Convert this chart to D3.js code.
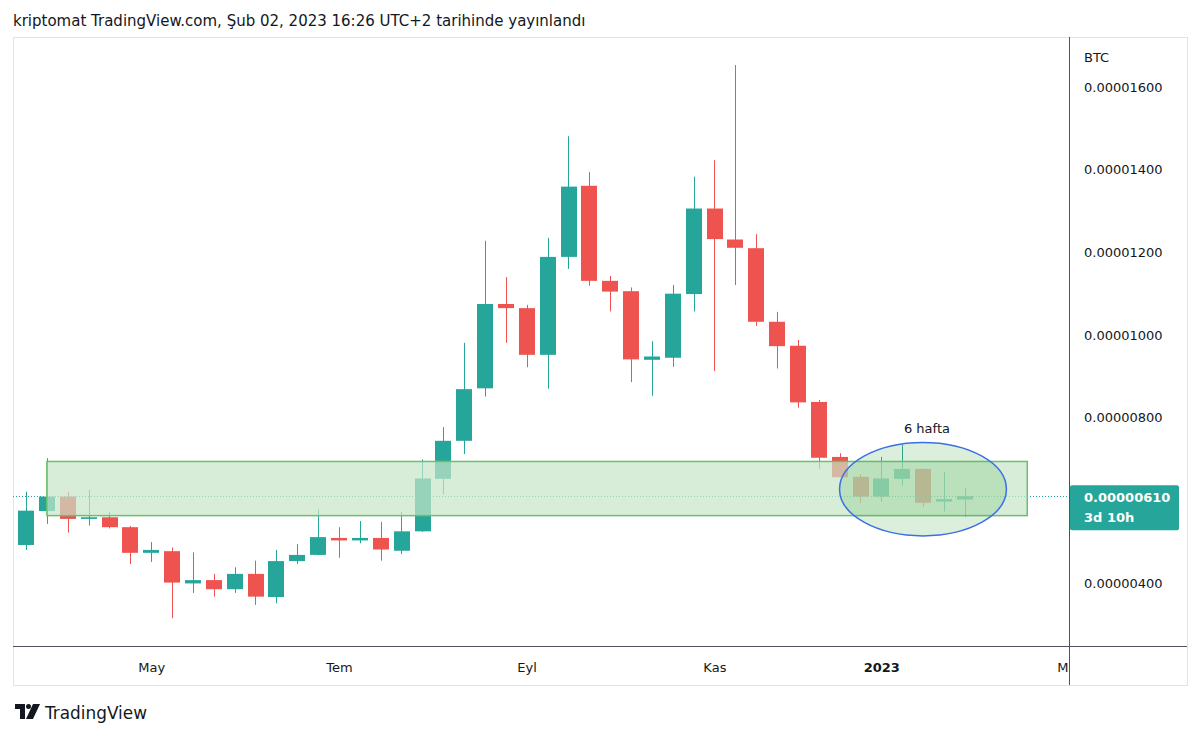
<!DOCTYPE html>
<html><head><meta charset="utf-8">
<script src="https://cdn.jsdelivr.net/npm/d3@7"></script>
<style>
html,body{margin:0;padding:0;background:#fff;}
svg{display:block;}
text{font-family:"DejaVu Sans",sans-serif;}
</style></head>
<body>
<svg id="chart" width="1200" height="736"></svg>
<script>
// Weekly candles, prices in satoshi (1e-8 BTC)
const weeks = ["2022-03-21","2022-03-28","2022-04-04","2022-04-11","2022-04-18","2022-04-25",
"2022-05-02","2022-05-09","2022-05-16","2022-05-23","2022-05-30","2022-06-06","2022-06-13",
"2022-06-20","2022-06-27","2022-07-04","2022-07-11","2022-07-18","2022-07-25","2022-08-01",
"2022-08-08","2022-08-15","2022-08-22","2022-08-29","2022-09-05","2022-09-12","2022-09-19",
"2022-09-26","2022-10-03","2022-10-10","2022-10-17","2022-10-24","2022-10-31","2022-11-07",
"2022-11-14","2022-11-21","2022-11-28","2022-12-05","2022-12-12","2022-12-19","2022-12-26",
"2023-01-02","2023-01-09","2023-01-16","2023-01-23","2023-01-30"];
const opens  = [492,574,609,555,559,535,473,477,399,407,385,422,366,453,468,509,503,509,478,525,652,744,871,1075,1065,952,1189,1361,1131,1106,940,945,1099,1306,1231,1210,1032,974,838,705,657,609,652,676,597,602];
const highs  = [621,702,621,625,572,538,499,486,474,422,438,454,480,494,578,535,550,548,572,699,777,981,1228,1140,1073,1235,1481,1394,1143,1115,985,1121,1383,1423,1653,1244,1056,988,843,714,663,705,735,677,669,631];
const lows   = [480,543,522,539,532,446,451,315,376,367,376,347,351,446,467,461,496,454,470,524,615,712,851,981,922,870,1160,1119,1057,886,853,923,1057,913,1121,1022,919,824,676,655,594,597,635,585,573,560];
const closes = [575,609,555,559,535,473,480,401,407,385,422,367,453,468,511,503,509,481,525,653,744,869,1075,1065,952,1189,1359,1131,1105,941,948,1100,1306,1232,1211,1032,973,837,703,656,609,653,676,594,603,610];

// 0.00000600 is hidden behind the last-price label in the reference
const yTicks = [400,800,1000,1200,1400,1600];
const xTickDates = ["2022-05-02","2022-07-04","2022-09-05","2022-11-07","2023-01-02","2023-03-06"];
const xTickLabels = ["May","Tem","Eyl","Kas","2023","Mar"];
const xTickBold = [false,false,false,false,true,false];

const lastPrice = 610;
const countdown = "3d 10h";
const currency = "BTC";
const headerText = "kriptomat TradingView.com, Şub 02, 2023 16:26 UTC+2 tarihinde yayınlandı";

// drawings
const zoneDates = ["2022-03-28","2023-02-20"];
const zonePrices = [694, 563];
const ellipseDates = ["2022-12-19","2023-02-13"];
const ellipsePrices = [740, 514];
const ellipseLabel = "6 hafta";

const parse = d3.utcParse("%Y-%m-%d");
const fmt = v => (v/1e8).toFixed(8);

const L = 13, R = 1069, T = 37, B = 646, FR = 1187, FB = 685;
const svg = d3.select("#chart");

const x = d3.scaleUtc().domain([parse("2022-03-21"), parse("2023-03-06")]).range([26, 1069]);
const y = d3.scaleLinear().domain([400,1600]).range([583,87]);
const step = x(parse("2022-03-28")) - x(parse("2022-03-21"));
const bw = step*0.75;

const UP = "#26a69a", DN = "#ef5350";

// header
svg.append("text").attr("x",13).attr("y",26).attr("font-size",15).attr("fill","#131722").text(headerText);

// frame
svg.append("rect").attr("x",L+0.5).attr("y",T+0.5).attr("width",FR-L).attr("height",FB-T)
  .attr("fill","none").attr("stroke","#e0e3eb");

svg.append("defs").append("clipPath").attr("id","plot").append("rect")
  .attr("x",L).attr("y",T).attr("width",R-L).attr("height",B-T);
svg.select("defs").append("clipPath").attr("id","xax").append("rect")
  .attr("x",L).attr("y",B).attr("width",R-L+1).attr("height",FB-B);

const plot = svg.append("g").attr("clip-path","url(#plot)");

const data = weeks.map((w,i)=>({d:parse(w),o:opens[i],h:highs[i],l:lows[i],c:closes[i]}));

const cg = plot.append("g");
cg.selectAll("line.wick").data(data).join("line").attr("class","wick")
  .attr("x1",d=>Math.round(x(d.d))+0.5).attr("x2",d=>Math.round(x(d.d))+0.5)
  .attr("y1",d=>y(d.h)).attr("y2",d=>y(d.l))
  .attr("stroke",d=>d.c>=d.o?UP:DN).attr("stroke-width",1);
cg.selectAll("rect.body").data(data).join("rect").attr("class","body")
  .attr("x",d=>Math.round(x(d.d)-bw/2)).attr("width",Math.round(bw))
  .attr("y",d=>y(Math.max(d.o,d.c)))
  .attr("height",d=>Math.max(1.5,Math.abs(y(d.o)-y(d.c))))
  .attr("fill",d=>d.c>=d.o?UP:DN);

// last price line
plot.append("line").attr("x1",L).attr("x2",R).attr("y1",Math.round(y(lastPrice))+0.5).attr("y2",Math.round(y(lastPrice))+0.5)
  .attr("stroke",UP).attr("stroke-width",1).attr("stroke-dasharray","1,2");

// zone rectangle
const zx0 = x(parse(zoneDates[0])), zx1 = x(parse(zoneDates[1]));
const zy0 = y(zonePrices[0]), zy1 = y(zonePrices[1]);
plot.append("rect").attr("x",zx0).attr("y",zy0).attr("width",zx1-zx0).attr("height",zy1-zy0)
  .attr("fill","rgb(200,230,200)").attr("fill-opacity",0.7)
  .attr("stroke","#6cbf70").attr("stroke-width",1.5);

// ellipse
const ex0 = x(parse(ellipseDates[0])), ex1 = x(parse(ellipseDates[1]));
const ey0 = y(ellipsePrices[0]), ey1 = y(ellipsePrices[1]);
const ecx = (ex0+ex1)/2, ecy=(ey0+ey1)/2;
plot.append("ellipse").attr("cx",ecx).attr("cy",ecy).attr("rx",(ex1-ex0)/2).attr("ry",(ey1-ey0)/2)
  .attr("fill","rgba(76,175,80,0.2)").attr("stroke","#3b6fe6").attr("stroke-width",1.5);
plot.append("text").attr("x",ecx+4).attr("y",ey0-9).attr("text-anchor","middle")
  .attr("font-size",13).attr("fill","#131722").text(ellipseLabel);

// x axis
svg.append("line").attr("x1",L).attr("x2",FR).attr("y1",B+0.5).attr("y2",B+0.5).attr("stroke","#50535e");
const xa = svg.append("g").attr("clip-path","url(#xax)").append("g").attr("transform",`translate(0,${B})`)
  .call(d3.axisBottom(x).tickValues(xTickDates.map(parse)).tickSize(0).tickPadding(0)
    .tickFormat((d,i)=>xTickLabels[i]));
xa.select(".domain").remove();
xa.selectAll("text").attr("font-family","DejaVu Sans, sans-serif").attr("font-size",13)
  .attr("fill","#131722").attr("dy",0).attr("y",26)
  .attr("font-weight",(d,i)=>xTickBold[i]?"bold":"normal");

// y axis
svg.append("line").attr("x1",R+0.5).attr("x2",R+0.5).attr("y1",T).attr("y2",FB).attr("stroke","#50535e");
const ya = svg.append("g").attr("transform",`translate(${R},0)`)
  .call(d3.axisRight(y).tickValues(yTicks).tickSize(0).tickPadding(15).tickFormat(fmt));
ya.select(".domain").remove();
ya.selectAll("text").attr("font-family","DejaVu Sans, sans-serif").attr("font-size",13).attr("fill","#131722");
svg.append("text").attr("x",R+15).attr("y",62).attr("font-size",13).attr("fill","#131722").text(currency);

// last price label
const ly = y(lastPrice);
svg.append("rect").attr("x",R+1).attr("y",ly-11).attr("width",109).attr("height",45).attr("rx",2).attr("fill",UP);
svg.append("text").attr("x",R+15).attr("y",ly+6).attr("font-size",13).attr("font-weight","bold").attr("fill","#fff").text(fmt(lastPrice));
svg.append("text").attr("x",R+15).attr("y",ly+26).attr("font-size",13).attr("font-weight","bold").attr("fill","#fff").text(countdown);

// TradingView logo
const lg = svg.append("g").attr("transform","translate(15,704)").attr("fill","#131722");
lg.append("path").attr("d","M0 0 H10 V15 H5 V5 H0 Z");
lg.append("circle").attr("cx",13.5).attr("cy",2.5).attr("r",2.5);
lg.append("path").attr("d","M18 0 H25 L18 15 H11 Z");
svg.append("text").attr("x",45).attr("y",719).attr("font-size",18).attr("fill","#131722")
  .attr("textLength",102).attr("lengthAdjust","spacingAndGlyphs").text("TradingView");
</script>
</body></html>
